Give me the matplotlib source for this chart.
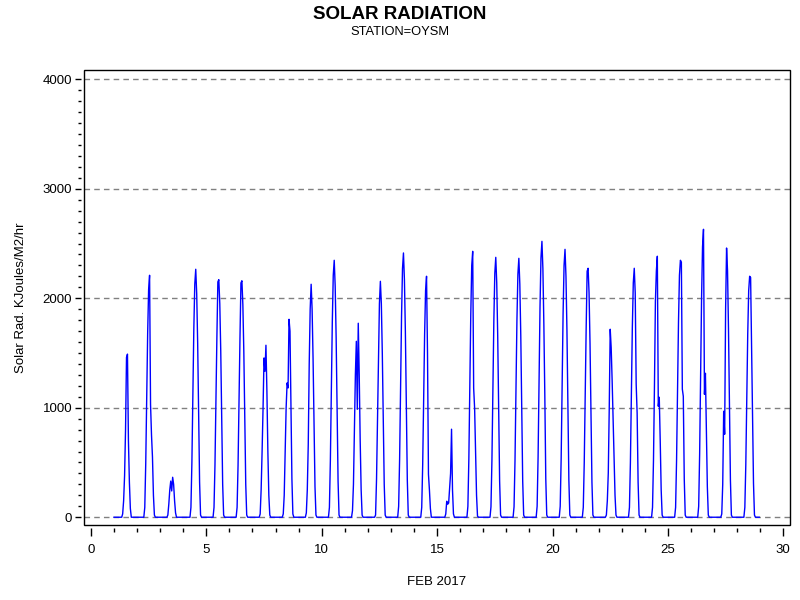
import matplotlib
matplotlib.use("Agg")
import matplotlib.pyplot as plt
from matplotlib.patches import Rectangle
from matplotlib.ticker import MultipleLocator
import numpy as np

plt.rcParams["font.family"] = ["Liberation Sans", "DejaVu Sans"]

# hourly solar radiation, Feb 2017, daylight hours 08..18 (other hours are 0)
days = list(range(1, 29))
day_hours = list(range(8, 19))
daylight = [
    [0, 30, 150, 380, 800, 1460, 1490, 700, 320, 80, 0],
    [90, 490, 1100, 1680, 2080, 2210, 1030, 750, 550, 200, 20],
    [20, 120, 250, 330, 240, 365, 300, 150, 40, 0, 0],
    [90, 500, 1130, 1720, 2130, 2265, 2040, 1590, 950, 320, 20],
    [90, 480, 1080, 1650, 2150, 2170, 1950, 1520, 910, 300, 20],
    [90, 475, 1080, 1640, 2140, 2160, 1940, 1510, 910, 300, 20],
    [30, 250, 600, 1000, 1455, 1333, 1571, 1150, 600, 200, 20],
    [30, 200, 600, 1000, 1227, 1181, 1808, 1700, 1000, 350, 30],
    [40, 250, 665, 1400, 1900, 2128, 1900, 1450, 850, 280, 20],
    [90, 520, 1170, 1780, 2210, 2347, 2110, 1640, 990, 330, 20],
    [60, 300, 800, 1300, 1607, 986, 1772, 1300, 700, 250, 20],
    [20, 347, 900, 1500, 1950, 2155, 1950, 1500, 900, 300, 20],
    [100, 530, 1200, 1830, 2270, 2414, 2170, 1690, 1010, 340, 20],
    [90, 480, 1100, 1670, 2070, 2201, 1500, 393, 250, 80, 0],
    [0, 30, 146, 119, 130, 265, 400, 804, 250, 30, 0],
    [100, 530, 1200, 1850, 2300, 2429, 1180, 995, 600, 200, 10],
    [95, 520, 1190, 1800, 2230, 2374, 2140, 1660, 1000, 330, 20],
    [95, 520, 1180, 1800, 2220, 2365, 2130, 1660, 990, 330, 20],
    [100, 550, 1260, 1920, 2370, 2520, 2270, 1760, 1110, 350, 20],
    [100, 540, 1220, 1860, 2300, 2447, 2200, 1710, 1030, 340, 20],
    [90, 500, 1140, 1730, 2247, 2274, 2050, 1590, 950, 320, 20],
    [20, 150, 405, 1000, 1717, 1550, 1250, 900, 550, 200, 20],
    [90, 500, 1140, 1730, 2140, 2274, 2050, 1215, 950, 320, 20],
    [90, 520, 1190, 1973, 2250, 2384, 1014, 1096, 700, 250, 20],
    [90, 520, 1170, 1780, 2210, 2347, 2330, 1170, 1105, 350, 20],
    [100, 580, 1310, 2000, 2470, 2630, 1123, 1315, 800, 280, 20],
    [30, 300, 968, 758, 1900, 2459, 2250, 1720, 1030, 340, 20],
    [90, 480, 1100, 1670, 2070, 2201, 2190, 1540, 920, 310, 20],
]

hours = np.arange(24)
x = (np.array(days)[:, None] + hours[None, :] / 24.0).ravel()
rad = np.zeros((len(days), 24))
rad[:, day_hours[0]:day_hours[-1] + 1] = np.array(daylight)
rad = rad.ravel()

fig = plt.figure(figsize=(8, 6), dpi=100)
ax = fig.add_axes([0.105, 0.125, 0.8825, 0.7583])

for level in [0, 1000, 2000, 3000, 4000]:
    ax.axhline(level, color="#808080", lw=1, ls=(0, (4, 3)), zorder=1)

ax.plot(x, rad, color="#0000ff", lw=1, zorder=2)

ax.set_xlim(-0.3, 30.29)
ax.set_ylim(-71, 4085)
ax.xaxis.set_major_locator(MultipleLocator(5))
ax.xaxis.set_minor_locator(MultipleLocator(1))
ax.yaxis.set_major_locator(MultipleLocator(1000))
ax.yaxis.set_minor_locator(MultipleLocator(100))

for side in ["left", "bottom"]:
    ax.spines[side].set_position(("outward", 2))
    ax.spines[side].set_color("none")
for side in ["top", "right"]:
    ax.spines[side].set_visible(False)
ax.add_patch(Rectangle((0, 0), 1, 1, transform=ax.transAxes, fill=False,
                       lw=1, ec="black", clip_on=False, zorder=3))

ax.tick_params(axis="x", which="major", length=6, width=1, labelsize=9.5, pad=6)
ax.tick_params(axis="x", which="minor", length=3, width=1)
ax.tick_params(axis="y", which="major", length=4.5, width=1, labelsize=9.5, pad=2)
ax.tick_params(axis="y", which="minor", length=2.5, width=1)

ax.set_ylabel("Solar Rad. KJoules/M2/hr", fontsize=9.5, labelpad=11)
ax.set_xlabel("FEB 2017", fontsize=9.5, labelpad=14)

fig.text(0.5, 0.976, "SOLAR RADIATION", ha="center", va="center",
         fontsize=13.5, fontweight="bold")
fig.text(0.5, 0.946, "STATION=OYSM", ha="center", va="center", fontsize=9.3)

fig.savefig("out.png", dpi=100)
